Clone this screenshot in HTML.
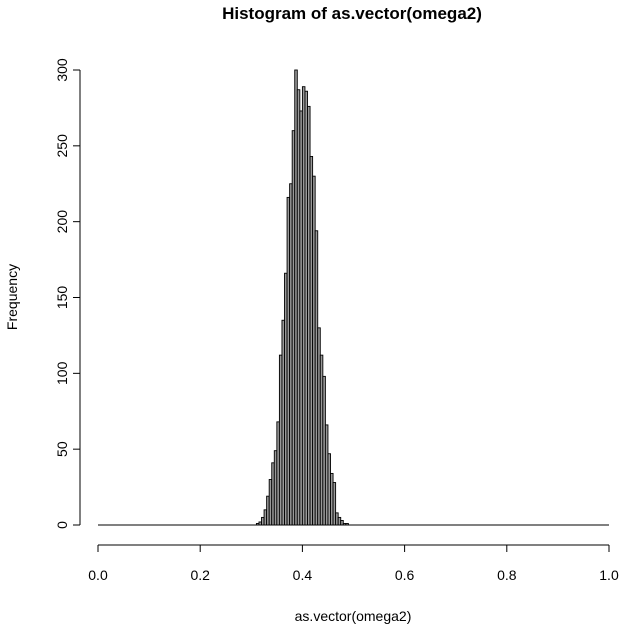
<!DOCTYPE html>
<html><head><meta charset="utf-8"><style>body{margin:0;background:#fff}svg{display:block;font-family:"Liberation Sans",sans-serif}</style></head>
<body>
<svg id="c" width="623" height="624">
<text x="352" y="19" text-anchor="middle" font-weight="bold" font-size="17">Histogram of as.vector(omega2)</text>
<text x="353" y="621" text-anchor="middle" font-size="14">as.vector(omega2)</text>
<text transform="translate(17,297) rotate(-90)" text-anchor="middle" font-size="14">Frequency</text>
<g id="bars"></g><g id="xa"></g><g id="ya"></g>
</svg>
<script>
const binStart = 0.31;
const binWidth = 0.005;
const counts = [1,2,5,10,19,30,41,49,68,112,135,166,216,225,260,300,287,273,289,286,276,243,230,194,130,112,98,66,47,34,28,8,5,3,1,1];
const xTicks = [0, 0.2, 0.4, 0.6, 0.8, 1.0];
const xTickLabels = ["0.0","0.2","0.4","0.6","0.8","1.0"];
const yTicks = [0, 50, 100, 150, 200, 250, 300];
const NS = "http://www.w3.org/2000/svg";
const X = v => 98 + v * 511;
const Y = v => 525 - v * 455 / 300;
function mk(t, a, p){const e=document.createElementNS(NS,t);for(const k in a)e.setAttribute(k,a[k]);p.appendChild(e);return e;}
const bars = document.getElementById('bars');
const base = mk('line', {x1: X(0), x2: X(1), y1: Y(0), y2: Y(0), stroke: '#000', 'stroke-width': 1}, bars);


const nb = Math.round(1 / binWidth);
for (let i = 0; i < nb; i++) {
  const lo = i * binWidth;
  const j = Math.round((lo - binStart) / binWidth);
  const c = (j >= 0 && j < counts.length) ? counts[j] : 0;
  if (c <= 0) continue;
  const r = mk('rect', {x: X(lo), y: Y(c), width: X(lo + binWidth) - X(lo), height: Y(0) - Y(c), fill: '#999', stroke: '#000', 'stroke-width': 0.9}, bars);
  
  
}
const xa = document.getElementById('xa');
mk('line', {x1: X(0), x2: X(1), y1: 545, y2: 545, stroke: '#000'}, xa);
xTicks.forEach((t, i) => {
  mk('line', {x1: X(t), x2: X(t), y1: 545, y2: 552, stroke: '#000'}, xa);
  const tx = mk('text', {x: X(t), y: 580, 'text-anchor': 'middle', 'font-size': 14}, xa);
  tx.textContent = xTickLabels[i];
  
  
});
const ya = document.getElementById('ya');
mk('line', {x1: 80, x2: 80, y1: Y(0), y2: Y(300), stroke: '#000'}, ya);
yTicks.forEach(t => {
  mk('line', {x1: 73, x2: 80, y1: Y(t), y2: Y(t), stroke: '#000'}, ya);
  const tx = mk('text', {transform: `translate(67,${Y(t)}) rotate(-90)`, 'text-anchor': 'middle', 'font-size': 14}, ya);
  tx.textContent = String(t);
  
  
});
</script>
</body></html>
